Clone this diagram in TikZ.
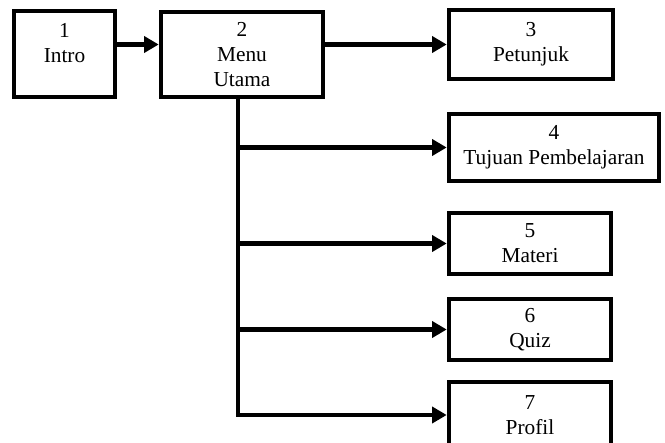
\documentclass[tikz,border=0pt]{standalone}
\usepackage{fontspec}
\setmainfont{Liberation Serif}
\usetikzlibrary{arrows.meta,positioning,calc}
\tikzset{box/.style={draw=black,line width=3.4pt,align=center,font=\fontsize{16}{18.75}\selectfont,inner sep=2pt,minimum width=121.5pt,minimum height=45.75pt},flow/.style={-{Triangle[length=11pt,width=12pt]},line width=3.4pt,draw=black}}
\begin{document}
\begin{tikzpicture}[x=0.75pt,y=-0.75pt]
\path[use as bounding box,clip] (0,0) rectangle (665,443);
\node[box,minimum width=75.75pt,minimum height=64.5pt,text depth=16pt] (intro) at (64.5,54) {1\\Intro};
\node[box,minimum height=63.75pt] (menu) at (242,54.5) {2\\Menu\\Utama};
\node[box,minimum width=123pt,minimum height=51.75pt] (petunjuk) at (531,44.5) {3\\Petunjuk};
\node[box,minimum width=157.5pt,minimum height=50.25pt] (tujuan) at (554,147.5) {4\\Tujuan Pembelajaran};
\node[box] (materi) at (530,243.5) {5\\Materi};
\node[box] (quiz) at (530,329.5) {6\\Quiz};
\node[box,minimum height=49.5pt] (profil) at (530,415) {7\\Profil};
\coordinate (trunk) at ([xshift=-3pt]menu.south);
\draw[flow] (intro.east |- petunjuk.west)--(menu.west |- petunjuk.west);
\draw[flow] (menu.east |- petunjuk.west)--(petunjuk.west);
\draw[flow] (trunk) |- (profil.west);
\draw[flow] (trunk |- tujuan.west)--(tujuan.west);
\draw[flow] (trunk |- materi.west)--(materi.west);
\draw[flow] (trunk |- quiz.west)--(quiz.west);
\end{tikzpicture}
\end{document}
